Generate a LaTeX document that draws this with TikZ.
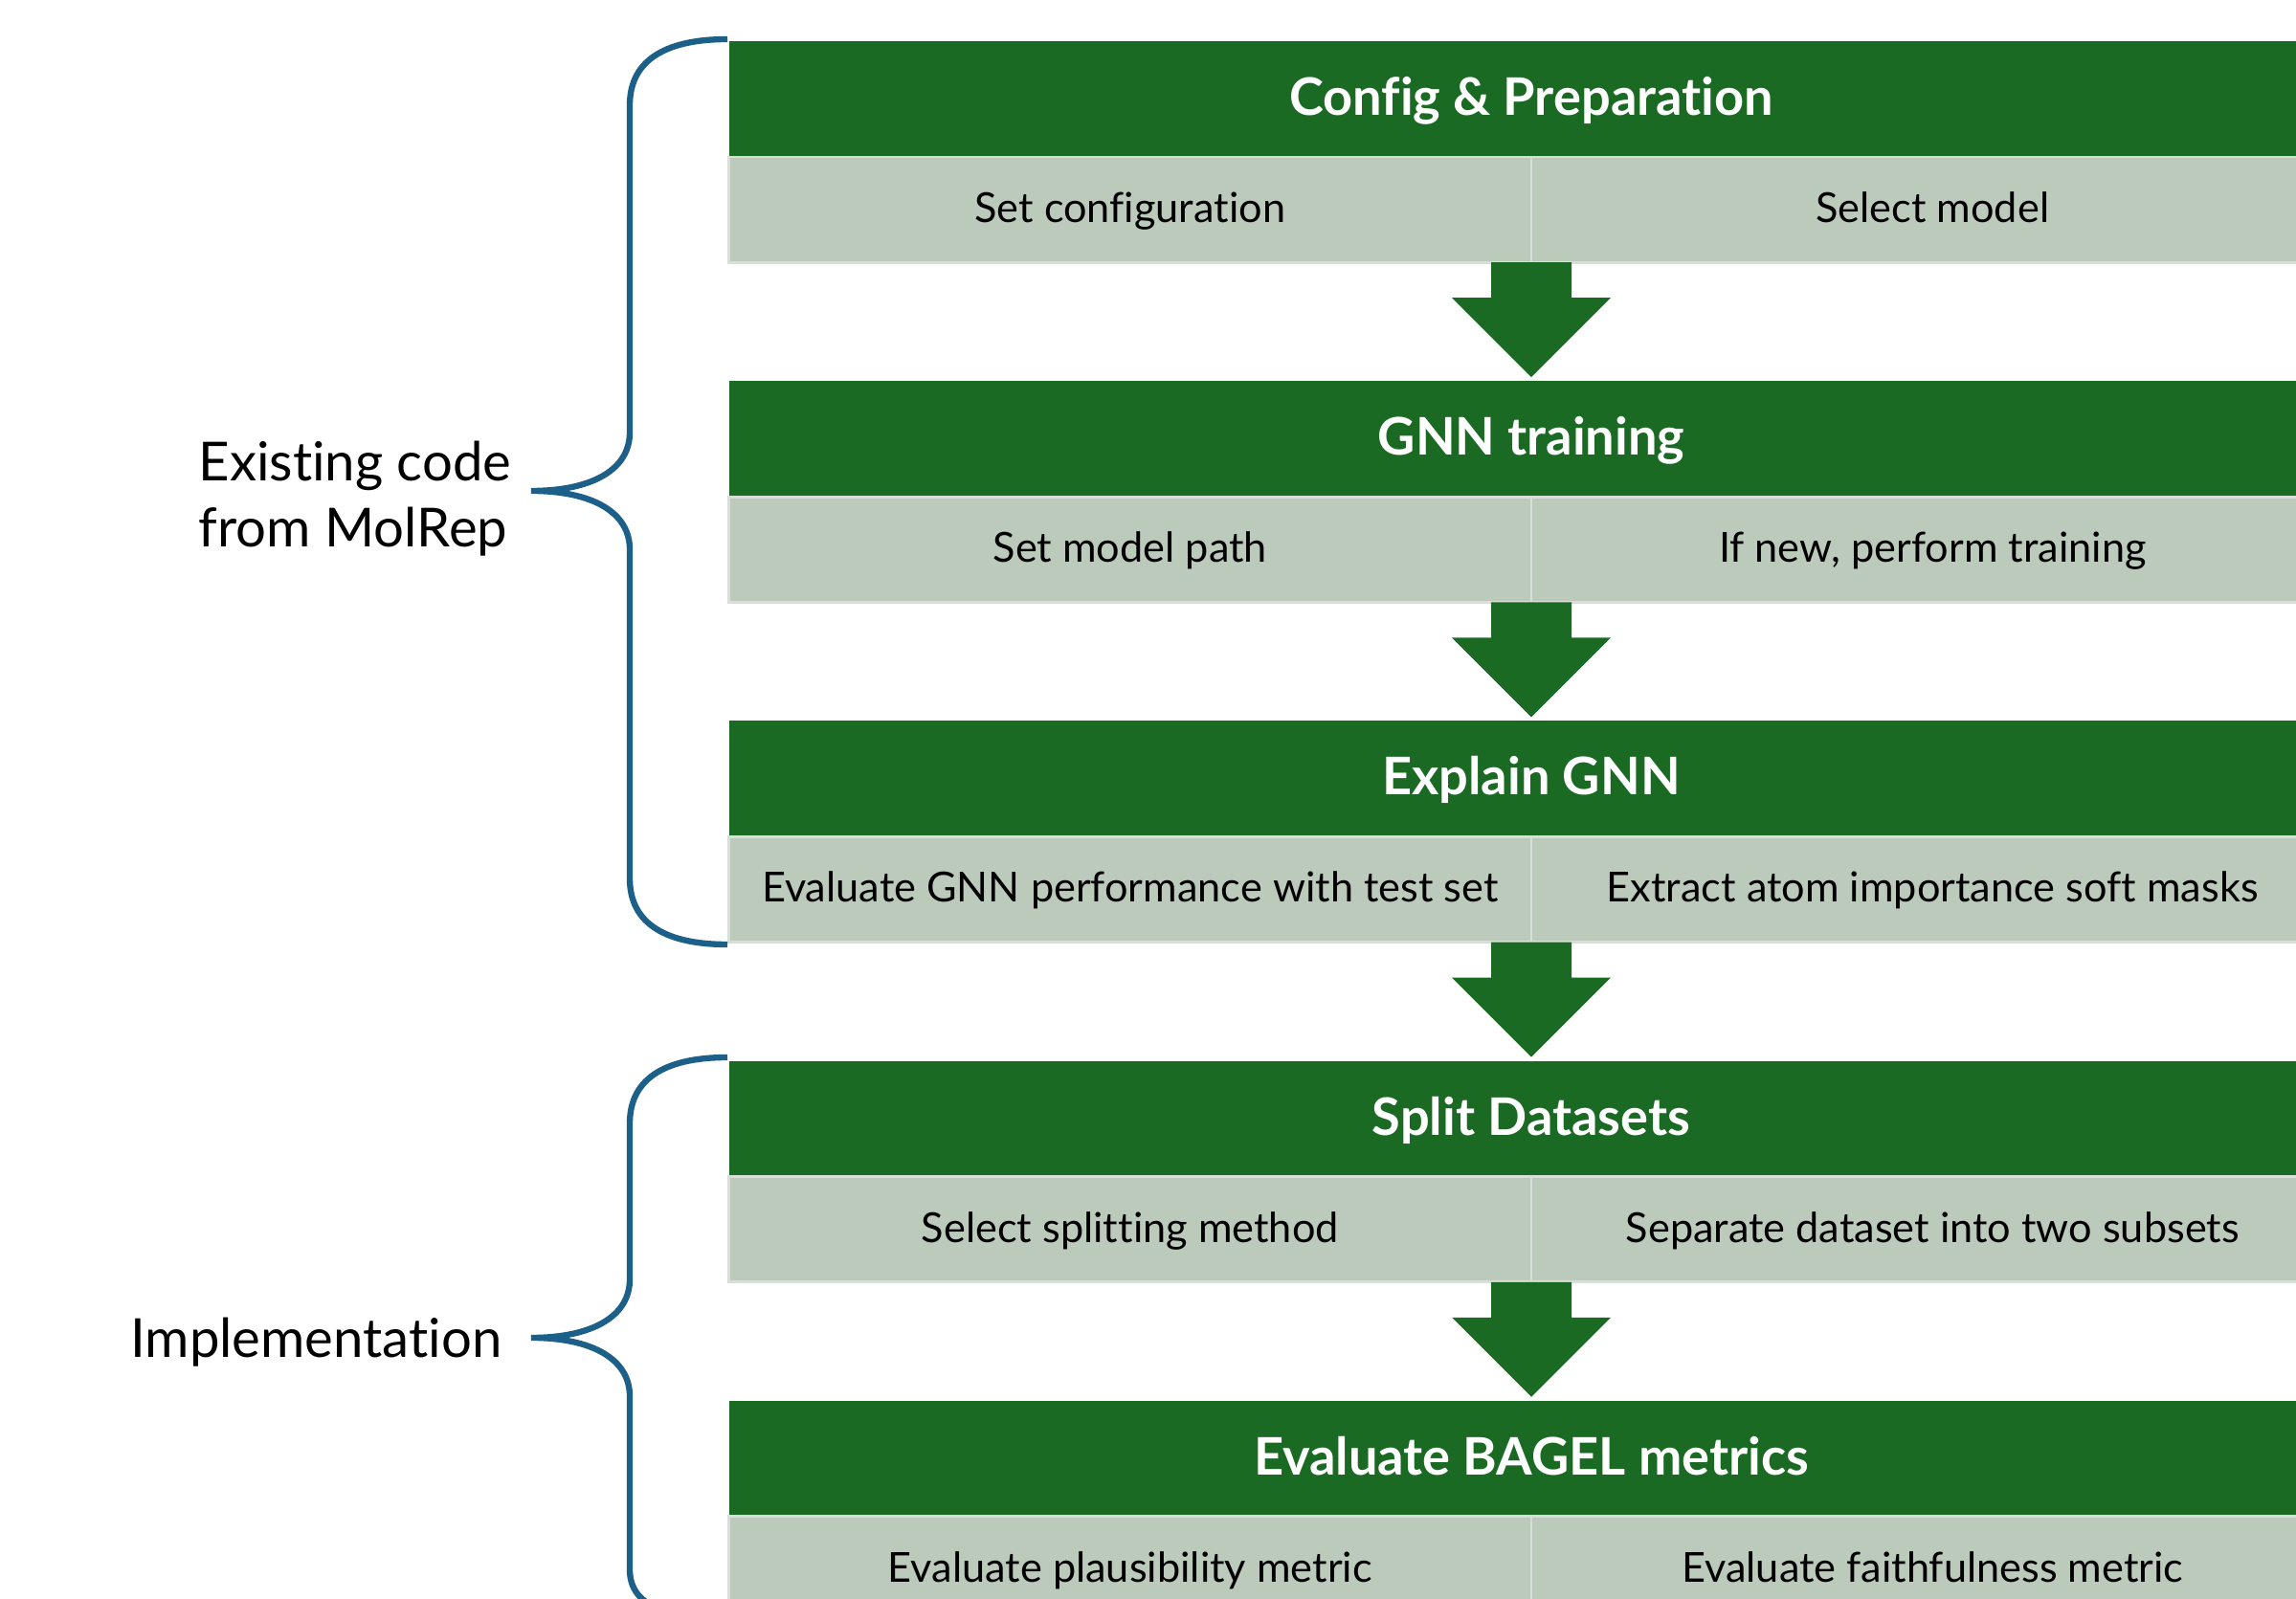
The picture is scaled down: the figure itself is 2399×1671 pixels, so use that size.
\documentclass[tikz,border=0pt]{standalone}
\usepackage{fontspec}
\setmainfont{Lato}[Ligatures=NoCommon]
\usepackage{tikz}
\usetikzlibrary{positioning}

\definecolor{stagegreen}{HTML}{1B6A24}
\definecolor{cellgrey}{HTML}{BCCABC}
\definecolor{celledge}{HTML}{D8DED8}
\definecolor{bracecol}{HTML}{1C5F88}

\tikzset{
  stagehead/.style={fill=stagegreen, text=white, font=\fontsize{15.4}{17}\selectfont\bfseries,
    minimum width=16.76cm, minimum height=1.21cm, inner sep=0pt, outer sep=0pt, anchor=north,
    text height=12.4pt, text depth=2.8pt},
  stagecell/.style={fill=cellgrey, draw=celledge, line width=0.8pt, font=\fontsize{12.3}{14}\selectfont,
    minimum width=8.38cm, minimum height=1.10cm, inner sep=0pt, outer sep=0pt,
    text height=10.6pt, text depth=3pt},
  sidebrace/.style={draw=bracecol, line width=1.8pt},
  sidelabel/.style={font=\fontsize{16}{19.6}\selectfont, align=left, inner sep=0pt}
}

% block arrow hanging under the split between the two cells
\newcommand{\stagearrow}[1]{%
  \fill[stagegreen] (#1.south east) +(-42,0) -- +(-42,37) -- +(-83,37) -- +(0,120)
    -- +(83,37) -- +(42,37) -- +(42,0) -- cycle;}

\begin{document}
\begin{tikzpicture}[x=0.01cm, y=-0.01cm]
\useasboundingbox (0,0) rectangle (2399,1671);

% stages
\node[stagehead] (h1) at (1600,43) {Config \& Preparation};
\node[stagecell, below left=0pt of h1.south] (c1a) {Set configuration};
\node[stagecell, below right=0pt of h1.south] (c1b) {Select model};

\node[stagehead, below=1.24cm of c1a.south east] (h2) {GNN training};
\node[stagecell, below left=0pt of h2.south] (c2a) {Set model path};
\node[stagecell, below right=0pt of h2.south] (c2b) {If new, perform training};

\node[stagehead, below=1.24cm of c2a.south east] (h3) {Explain GNN};
\node[stagecell, below left=0pt of h3.south] (c3a) {Evaluate GNN performance with test set};
\node[stagecell, below right=0pt of h3.south] (c3b) {Extract atom importance soft masks};

\node[stagehead, below=1.24cm of c3a.south east] (h4) {Split Datasets};
\node[stagecell, below left=0pt of h4.south] (c4a) {Select splitting method};
\node[stagecell, below right=0pt of h4.south] (c4b) {Separate dataset into two subsets};

\node[stagehead, below=1.24cm of c4a.south east] (h5) {Evaluate BAGEL metrics};
\node[stagecell, below left=0pt of h5.south] (c5a) {Evaluate plausibility metric};
\node[stagecell, below right=0pt of h5.south] (c5b) {Evaluate faithfulness metric};

% arrows between stages
\stagearrow{c1a}
\stagearrow{c2a}
\stagearrow{c3a}
\stagearrow{c4a}

% braces
\draw[sidebrace] (760,41) .. controls (700,41) and (658,60) .. (658,110) -- (658,452)
  .. controls (658,490) and (620,513) .. (555,513)
  .. controls (620,513) and (658,536) .. (658,574) -- (658,918)
  .. controls (658,968) and (700,987) .. (760,987);
\draw[sidebrace] (760,1105) .. controls (700,1105) and (658,1124) .. (658,1174) -- (658,1337)
  .. controls (658,1375) and (620,1398) .. (555,1398)
  .. controls (620,1398) and (658,1421) .. (658,1459) -- (658,1640)
  .. controls (658,1680) and (700,1691) .. (760,1691);

\node[sidelabel, anchor=west] (lab1) at (207,521) {Existing code\\from MolRep};
\node[sidelabel, anchor=east] (lab2) at (525,1403) {Implementation};
\end{tikzpicture}
\end{document}
